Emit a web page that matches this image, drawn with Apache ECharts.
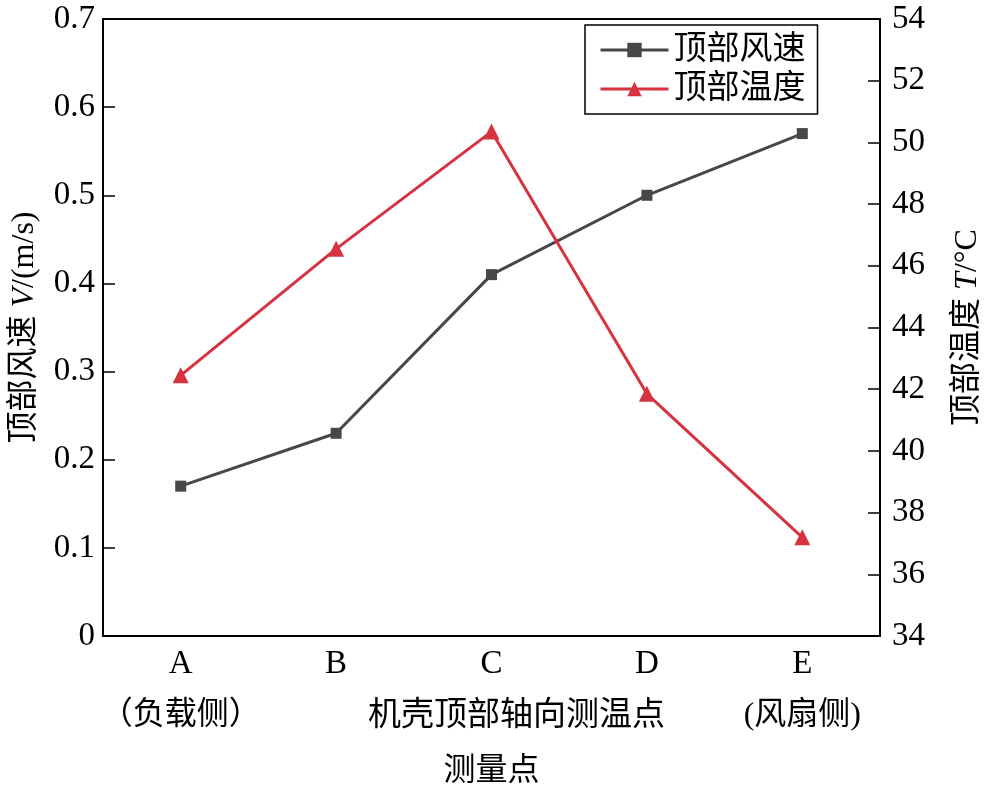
<!DOCTYPE html>
<html>
<head>
<meta charset="utf-8">
<script src="https://cdn.jsdelivr.net/npm/echarts@6/dist/echarts.min.js"></script>
<style>html,body{margin:0;padding:0;background:#fff;}#c{width:988px;height:793px;}</style>
</head>
<body>
<div id="c"></div>
<script>
const categories = ['A', 'B', 'C', 'D', 'E'];
const subLabels = ['（负载侧）', '', '机壳顶部轴向测温点', '', '(风扇侧)'];
const speedValues = [0.17, 0.23, 0.41, 0.50, 0.57];
const tempValues = [42.45, 46.55, 50.35, 41.85, 37.2];
const speedTicks = { min: 0, max: 0.7, interval: 0.1 };
const tempTicks = { min: 34, max: 54, interval: 2 };

const FONT = "'Liberation Serif', 'Noto Sans CJK SC', serif";
const chart = echarts.init(document.getElementById('c'), null, { renderer: 'canvas' });
chart.setOption({
  backgroundColor: '#fff',
  animation: false,
  textStyle: { fontFamily: FONT, color: '#000' },
  grid: { left: 103, right: 108, top: 19, bottom: 157, containLabel: false, outerBoundsMode: 'none',
          show: true, borderColor: '#000', borderWidth: 2, backgroundColor: 'transparent' },
  legend: {
    orient: 'vertical', left: 585, top: 25,
    padding: [8, 12, 8, 14],
    borderColor: '#000', borderWidth: 1.5,
    itemWidth: 68, itemHeight: 18, itemGap: 5,
    lineStyle: { width: 3 },
    textStyle: { fontFamily: FONT, fontSize: 33, color: '#000', lineHeight: 34 },
    data: ['顶部风速', '顶部温度']
  },
  xAxis: {
    type: 'category', data: categories, boundaryGap: true,
    name: '测量点', nameLocation: 'middle', nameGap: 120,
    nameTextStyle: { fontFamily: FONT, fontSize: 32, color: '#000' },
    axisLine: { lineStyle: { color: '#000', width: 2 } },
    axisTick: { inside: true, alignWithLabel: true, length: 15, lineStyle: { color: '#000', width: 1.5 } },
    axisLabel: {
      margin: 2, color: '#000', interval: 0,
      formatter: function (v, i) {
        const s = subLabels[i];
        if (i === 2) return '{a|' + v + '}\n{c|' + s + '}';
        return '{a|' + v + '}\n{b|' + (s || ' ') + '}';
      },
      rich: {
        a: { fontFamily: FONT, fontSize: 33, lineHeight: 52, color: '#000' },
        b: { fontFamily: FONT, fontSize: 32, lineHeight: 52, color: '#000' },
        c: { fontFamily: FONT, fontSize: 33, lineHeight: 52, color: '#000', padding: [0, 0, 0, 50] }
      }
    },
    splitLine: { show: false }
  },
  yAxis: [
    {
      type: 'value', min: speedTicks.min, max: speedTicks.max, interval: speedTicks.interval,
      name: '{n|顶部风速 }{i|V}{n|/(m/s)}', nameLocation: 'middle', nameGap: 62, nameRotate: 90,
      nameTextStyle: { rich: {
        n: { fontFamily: FONT, fontSize: 32, color: '#000' },
        i: { fontFamily: FONT, fontSize: 32, fontStyle: 'italic', color: '#000' }
      } },
      axisLine: { show: true, lineStyle: { color: '#000', width: 2 } },
      axisTick: { show: true, inside: true, length: 12, lineStyle: { color: '#000', width: 1.5 } },
      axisLabel: { margin: 8, fontFamily: FONT, fontSize: 33, color: '#000', formatter: function (v) { return v === 0 ? '0' : v.toFixed(1); } },
      splitLine: { show: false }
    },
    {
      type: 'value', min: tempTicks.min, max: tempTicks.max, interval: tempTicks.interval, position: 'right',
      name: '{n|顶部温度 }{i|T}{n|/°C}', nameLocation: 'middle', nameGap: 72, nameRotate: 90,
      nameTextStyle: { rich: {
        n: { fontFamily: FONT, fontSize: 32, color: '#000' },
        i: { fontFamily: FONT, fontSize: 32, fontStyle: 'italic', color: '#000' }
      } },
      axisLine: { show: true, lineStyle: { color: '#000', width: 2 } },
      axisTick: { show: true, inside: true, length: 12, lineStyle: { color: '#000', width: 1.5 } },
      axisLabel: { margin: 12, fontFamily: FONT, fontSize: 33, color: '#000' },
      splitLine: { show: false }
    }
  ],
  series: [
    {
      name: '顶部风速', type: 'line', yAxisIndex: 0, data: speedValues,
      symbol: 'rect', symbolSize: 11,
      lineStyle: { color: '#474747', width: 3 },
      itemStyle: { color: '#474747' }
    },
    {
      name: '顶部温度', type: 'line', yAxisIndex: 1, data: tempValues,
      symbol: 'triangle', symbolSize: 16,
      lineStyle: { color: '#d6323f', width: 3 },
      itemStyle: { color: '#d6323f' }
    }
  ]
});
</script>
</body>
</html>
